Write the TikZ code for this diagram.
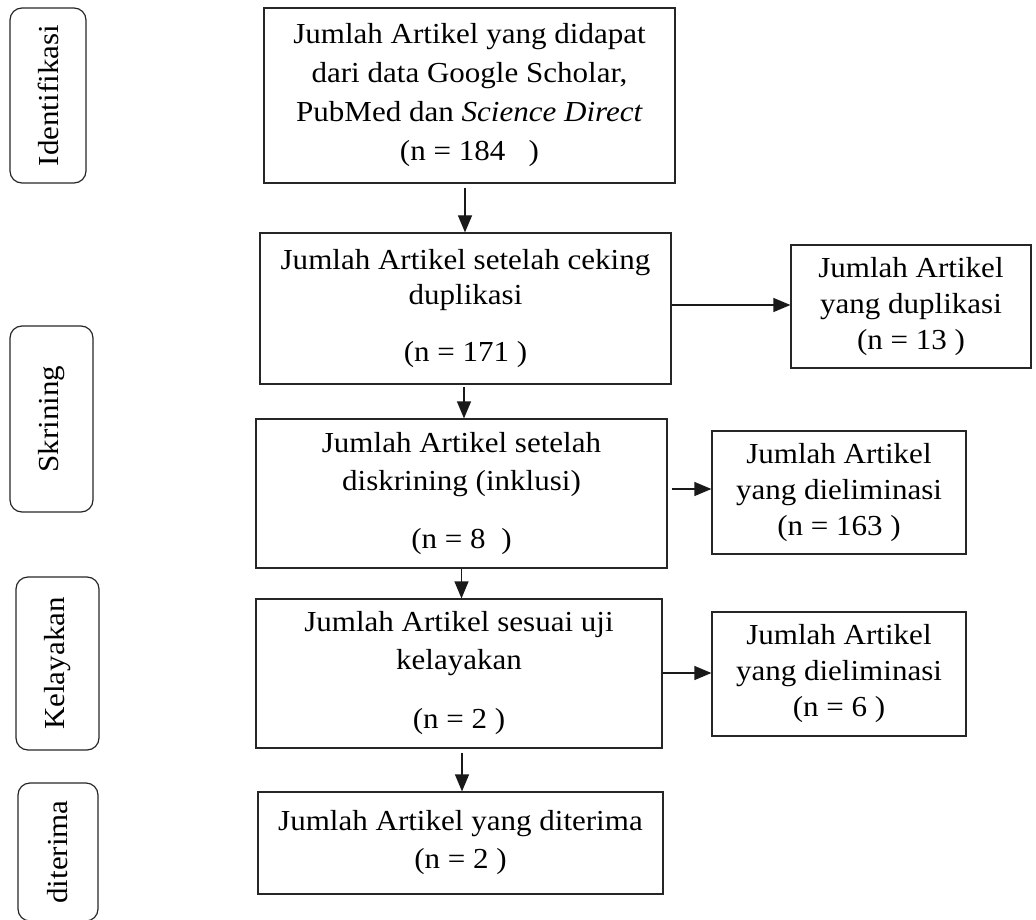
\documentclass[tikz,border=0pt]{standalone}
\usepackage{fontspec}
\setmainfont{Liberation Serif}[FakeStretch=1.07]
\usetikzlibrary{arrows.meta}
\begin{document}
\begin{tikzpicture}[x=1pt,y=-1pt,
  box/.style={draw=black!85, line width=1.2pt, align=center, inner sep=0pt},
  stage/.style={draw=black!85, line width=1.2pt, rounded corners=12pt, inner sep=0pt, rotate=90, font=\fontsize{29}{32}\selectfont},
  arr/.style={-{Triangle[length=17pt,width=14pt]}, line width=1.2pt, draw=black!90}
]
\useasboundingbox (0,0) rectangle (1036,920);
\clip (0,0) rectangle (1036,920);

% stage labels
\node[stage, minimum width=175pt, minimum height=76pt] (s1) at (48,95.5) {Identifikasi};
\node[stage, minimum width=186pt, minimum height=83pt] (s2) at (51.5,419) {Skrining};
\node[stage, minimum width=173pt, minimum height=83pt] (s3) at (57.5,663.5) {Kelayakan};
\node[stage, minimum width=138pt, minimum height=80pt] (s4) at (58,852) {diterima};

% main boxes
\node[box, minimum width=411pt, minimum height=175pt, font=\fontsize{29}{39}\selectfont] (b1) at (469.5,95.5)
  {Jumlah Artikel yang didapat\\dari data Google Scholar,\\PubMed dan \textit{Science Direct}\\(n = 184\ \ \ )};
\node[box, minimum width=411pt, minimum height=151pt, font=\fontsize{29}{35}\selectfont] (b2) at (465.5,308.5)
  {Jumlah Artikel setelah ceking\\duplikasi\\[22pt](n = 171 )};
\node[box, minimum width=411pt, minimum height=149pt, font=\fontsize{29}{38}\selectfont] (b3) at (461.5,493.5)
  {Jumlah Artikel setelah\\diskrining (inklusi)\\[20pt](n = 8\ \ )};
\node[box, minimum width=406pt, minimum height=149pt, font=\fontsize{29}{38}\selectfont] (b4) at (459,673.5)
  {Jumlah Artikel sesuai uji\\kelayakan\\[21pt](n = 2 )};
\node[box, minimum width=405pt, minimum height=102pt, font=\fontsize{29}{38}\selectfont] (b5) at (460.5,843)
  {Jumlah Artikel yang diterima\\(n = 2 )};

% side boxes
\node[box, minimum width=240pt, minimum height=123pt, font=\fontsize{29}{36}\selectfont] (r1) at (911,306.5)
  {Jumlah Artikel\\yang duplikasi\\(n = 13 )};
\node[box, minimum width=254pt, minimum height=123pt, font=\fontsize{29}{36}\selectfont] (r2) at (839,492.5)
  {Jumlah Artikel\\yang dieliminasi\\(n = 163 )};
\node[box, minimum width=254pt, minimum height=124pt, font=\fontsize{29}{36}\selectfont] (r3) at (839,674)
  {Jumlah Artikel\\yang dieliminasi\\(n = 6 )};

% vertical arrows
\draw[arr] ([xshift=-4.5pt,yshift=-4pt]b1.south) -- ([xshift=-4.5pt]b1.south |- b2.north);
\draw[arr] ([xshift=-1.5pt,yshift=-2pt]b2.south) -- ([xshift=-1.5pt]b2.south |- b3.north);
\draw[arr] (b3.south) -- (b3.south |- b4.north);
\draw[arr] ([xshift=3pt,yshift=-4pt]b4.south) -- ([xshift=3pt]b4.south |- b5.north);

% horizontal arrows
\draw[arr] ([yshift=3.5pt]b2.east) -- ([yshift=3.5pt]b2.east -| r1.west);
\draw[arr] ([xshift=4pt,yshift=4.5pt]b3.east) -- ([yshift=4.5pt]b3.east -| r2.west);
\draw[arr] ([yshift=0.5pt]b4.east) -- ([yshift=0.5pt]b4.east -| r3.west);
\end{tikzpicture}
\end{document}
